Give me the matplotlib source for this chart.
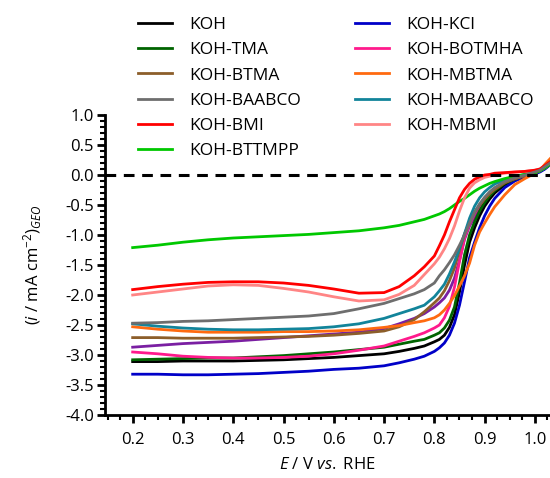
import numpy as np
import matplotlib
matplotlib.use("Agg")
import matplotlib.pyplot as plt
from matplotlib.ticker import MultipleLocator

plt.rcParams['font.family'] = ['Open Sans', 'DejaVu Sans']
plt.rcParams['mathtext.fontset'] = 'custom'
plt.rcParams['mathtext.rm'] = 'Open Sans'
plt.rcParams['mathtext.it'] = 'Open Sans:italic'
plt.rcParams['axes.unicode_minus'] = False

# Potential values (V vs RHE) shared by every curve
potential = [0.2, 0.25, 0.3, 0.35, 0.4, 0.45, 0.5, 0.55, 0.6, 0.65, 0.7, 0.73, 0.76, 0.78,
             0.8, 0.81, 0.82, 0.83, 0.84, 0.85, 0.86, 0.87, 0.88, 0.89, 0.9, 0.91, 0.92,
             0.94, 0.96, 0.98, 1.0, 1.01, 1.02, 1.03]

# Current density (mA cm-2)
koh = [-3.11, -3.11, -3.10, -3.10, -3.10, -3.09, -3.08, -3.06, -3.04, -3.01, -2.98, -2.94, -2.89,
       -2.85, -2.78, -2.74, -2.67, -2.54, -2.33, -1.95, -1.50, -1.12, -0.88, -0.68, -0.52,
       -0.40, -0.30, -0.16, -0.08, -0.02, 0.03, 0.06, 0.11, 0.18]
koh_tma = [-3.08, -3.07, -3.06, -3.05, -3.05, -3.03, -3.01, -2.98, -2.95, -2.91, -2.87, -2.82,
           -2.77, -2.74, -2.67, -2.63, -2.55, -2.42, -2.20, -1.80, -1.33, -1.00, -0.78, -0.60,
           -0.46, -0.35, -0.26, -0.14, -0.07, -0.01, 0.04, 0.07, 0.12, 0.20]
koh_btma = [-2.71, -2.71, -2.72, -2.72, -2.72, -2.71, -2.70, -2.69, -2.67, -2.64, -2.60, -2.53,
            -2.41, -2.28, -2.13, -2.05, -1.93, -1.76, -1.55, -1.25, -0.98, -0.78, -0.62, -0.50,
            -0.40, -0.31, -0.24, -0.13, -0.06, -0.01, 0.04, 0.07, 0.12, 0.18]
koh_baabco = [-2.47, -2.46, -2.44, -2.43, -2.41, -2.39, -2.37, -2.35, -2.31, -2.23, -2.14, -2.06,
              -1.98, -1.91, -1.80, -1.68, -1.58, -1.46, -1.33, -1.17, -1.00, -0.80, -0.62, -0.48,
              -0.37, -0.28, -0.21, -0.11, -0.05, 0.0, 0.05, 0.08, 0.14, 0.20]
koh_bmi = [-1.91, -1.86, -1.82, -1.79, -1.78, -1.78, -1.80, -1.84, -1.90, -1.97, -1.96, -1.86,
           -1.68, -1.53, -1.35, -1.18, -1.00, -0.78, -0.58, -0.38, -0.24, -0.14, -0.07, -0.03,
           0.0, 0.01, 0.03, 0.04, 0.05, 0.06, 0.08, 0.10, 0.16, 0.22]
koh_bttmpp = [-1.21, -1.17, -1.12, -1.08, -1.05, -1.03, -1.01, -0.99, -0.96, -0.93, -0.88, -0.84,
              -0.78, -0.74, -0.68, -0.65, -0.61, -0.56, -0.50, -0.44, -0.39, -0.33, -0.27, -0.22,
              -0.18, -0.14, -0.11, -0.06, -0.02, 0.01, 0.04, 0.07, 0.12, 0.18]
koh_kcl = [-3.32, -3.32, -3.33, -3.33, -3.32, -3.31, -3.29, -3.27, -3.24, -3.22, -3.18, -3.13,
           -3.07, -3.02, -2.94, -2.88, -2.80, -2.67, -2.47, -2.17, -1.78, -1.38, -1.12, -0.88,
           -0.68, -0.52, -0.39, -0.21, -0.10, -0.03, 0.02, 0.05, 0.10, 0.17]
koh_botmha = [-2.95, -2.98, -3.02, -3.04, -3.05, -3.05, -3.04, -3.02, -2.98, -2.92, -2.85, -2.77,
              -2.69, -2.63, -2.55, -2.50, -2.38, -2.19, -1.87, -1.44, -1.05, -0.82, -0.64, -0.50,
              -0.39, -0.30, -0.23, -0.12, -0.06, -0.01, 0.04, 0.07, 0.12, 0.18]
koh_mbtma = [-2.53, -2.57, -2.60, -2.62, -2.62, -2.62, -2.61, -2.61, -2.60, -2.58, -2.54, -2.51,
             -2.46, -2.43, -2.38, -2.33, -2.25, -2.14, -2.01, -1.85, -1.68, -1.47, -1.17, -0.95,
             -0.80, -0.66, -0.53, -0.33, -0.16, -0.06, 0.03, 0.08, 0.18, 0.27]
koh_mbaabco = [-2.48, -2.52, -2.55, -2.57, -2.58, -2.58, -2.57, -2.56, -2.53, -2.48, -2.39, -2.31,
               -2.23, -2.17, -2.03, -1.93, -1.82, -1.65, -1.45, -1.22, -0.98, -0.72, -0.52, -0.38,
               -0.28, -0.21, -0.15, -0.08, -0.03, 0.01, 0.04, 0.07, 0.12, 0.18]
koh_mbmi = [-2.00, -1.95, -1.90, -1.85, -1.83, -1.84, -1.89, -1.95, -2.03, -2.10, -2.08, -1.99,
            -1.84, -1.66, -1.48, -1.37, -1.23, -1.06, -0.85, -0.60, -0.38, -0.22, -0.13, -0.08,
            -0.04, -0.02, 0.0, 0.03, 0.05, 0.06, 0.08, 0.10, 0.15, 0.20]
# extra purple trace in the figure that has no legend entry
unlabelled = [-2.87, -2.84, -2.81, -2.79, -2.77, -2.74, -2.71, -2.68, -2.65, -2.62, -2.56, -2.48,
              -2.39, -2.31, -2.20, -2.13, -2.05, -1.92, -1.72, -1.42, -1.07, -0.85, -0.70, -0.56,
              -0.45, -0.36, -0.28, -0.16, -0.08, -0.02, 0.04, 0.07, 0.12, 0.18]

labels = ["KOH", "KOH-TMA", "KOH-BTMA", "KOH-BAABCO", "KOH-BMI", "KOH-BTTMPP",
          "KOH-KCl", "KOH-BOTMHA", "KOH-MBTMA", "KOH-MBAABCO", "KOH-MBMI"]
series = [koh, koh_tma, koh_btma, koh_baabco, koh_bmi, koh_bttmpp,
          koh_kcl, koh_botmha, koh_mbtma, koh_mbaabco, koh_mbmi]
colors = ["#000000", "#006400", "#8c5e2a", "#6e6e6e", "#ff0000", "#00c800",
          "#0000c8", "#ff1a8c", "#ff6a10", "#12849a", "#ff8585"]

fig = plt.figure(figsize=(5.5, 4.78), dpi=100)
ax = fig.add_axes([105 / 550, 63 / 478, 445 / 550, 300 / 478])

ax.plot(potential, unlabelled, color="#7a1fa2", lw=2)
# draw order so gray ends up on top like in the figure
order = [0, 6, 1, 7, 2, 8, 9, 5, 10, 4, 3]
handles = {}
for i in order:
    line, = ax.plot(potential, series[i], color=colors[i], lw=2, label=labels[i])
    handles[i] = line

# zero line
ax.axhline(0, color="black", lw=2.2, linestyle=(0, (3.5, 2.5)), zorder=5)

ax.set_xlim(0.145, 1.03)
ax.set_ylim(-4.0, 1.0)
ax.xaxis.set_minor_locator(MultipleLocator(0.025))
ax.yaxis.set_major_locator(MultipleLocator(0.5))
ax.yaxis.set_minor_locator(MultipleLocator(0.1))
xt = np.arange(0.2, 1.01, 0.1)
ax.set_xticks(xt)
ax.set_xticklabels([f"{v:.1f}" for v in xt])

for s in ["top", "right"]:
    ax.spines[s].set_visible(False)
for s in ["left", "bottom"]:
    ax.spines[s].set_linewidth(2)
ax.tick_params(which="major", length=6, width=2, labelsize=12, pad=2)
ax.tick_params(axis="x", which="major", pad=6)
ax.tick_params(which="minor", length=3.5, width=1.5)

ax.set_xlabel(r"$\mathit{E}$ / V $\mathit{vs.}$ RHE", fontsize=12, labelpad=7)
ax.set_ylabel(r"($\mathit{i}$ / mA cm$^{-2}$)$_{\mathit{GEO}}$", fontsize=12, labelpad=15)

fig.legend([handles[i] for i in range(11)], labels, loc="upper left",
           bbox_to_anchor=(138 / 550, 1 - 17 / 478), ncol=2, frameon=False, fontsize=12.5,
           handlelength=1.95, handletextpad=1.0, labelspacing=0.52, columnspacing=3.1,
           borderaxespad=0, borderpad=0)

fig.savefig("out.png", dpi=100)
